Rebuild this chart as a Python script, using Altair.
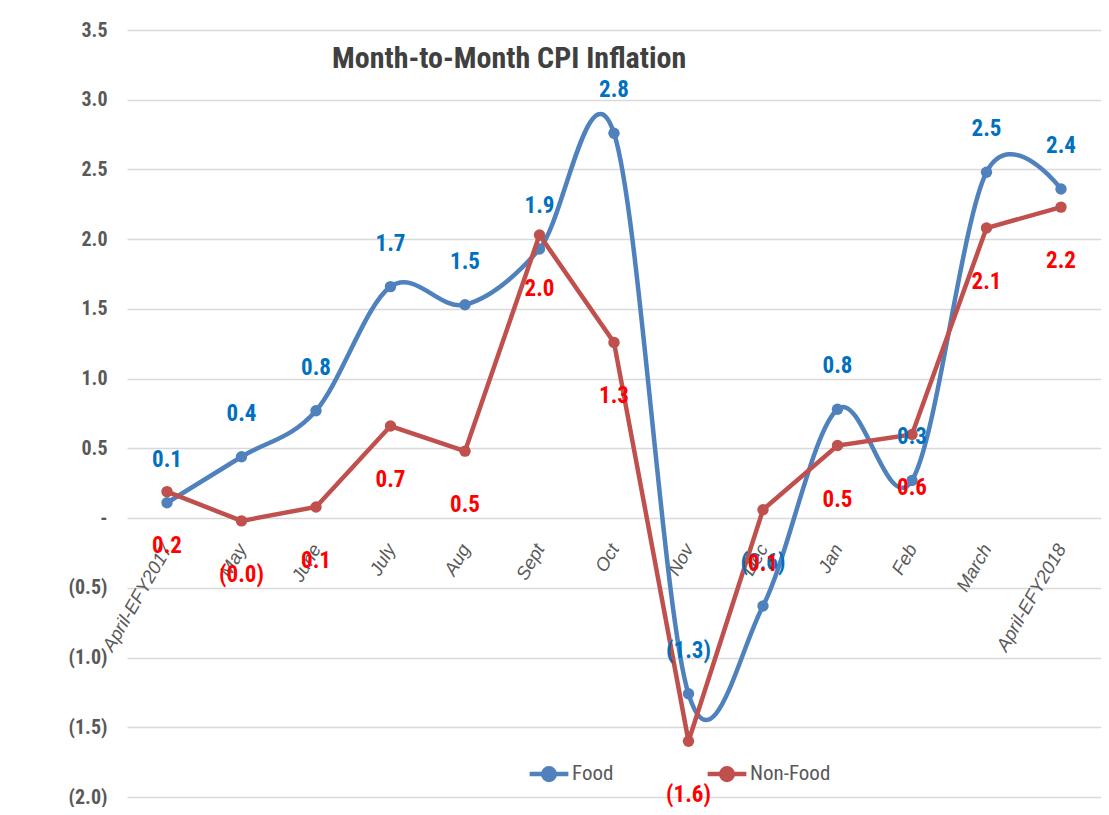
import altair as alt
import pandas as pd

months = ["April-EFY2017", "May", "June", "July", "Aug", "Sept", "Oct",
          "Nov", "Dec", "Jan", "Feb", "March", "April-EFY2018"]
food = [0.11, 0.44, 0.77, 1.66, 1.53, 1.93, 2.76, -1.26, -0.63, 0.78, 0.27, 2.48, 2.36]
nonfood = [0.19, -0.02, 0.08, 0.66, 0.48, 2.03, 1.26, -1.60, 0.06, 0.52, 0.60, 2.08, 2.23]
series_names = ["Food", "Non-Food"]
line_colors = ["#4F81BD", "#C0504D"]
label_colors = ["#0070C0", "#FF0000"]
y_ticks = [-2.0, -1.5, -1.0, -0.5, 0.0, 0.5, 1.0, 1.5, 2.0, 2.5, 3.0, 3.5]

rows = []
for m, f, n in zip(months, food, nonfood):
    rows.append({"month": m, "series": "Food", "v": f})
    rows.append({"month": m, "series": "Non-Food", "v": n})
df = pd.DataFrame(rows)

FONT = "Liberation Sans Narrow, Roboto Condensed, Liberation Sans, sans-serif"
XFONT = "Liberation Sans, sans-serif"
W, H = 974, 767
ymin, ymax = -2.0, 3.5
zero_off = -H * (0 - ymin) / (ymax - ymin)

label_expr = ("datum.v < 0 ? '(' + format(-datum.v, '.1f') + ')' : format(datum.v, '.1f')")

x_enc = alt.X("month:N", sort=months,
              scale=alt.Scale(type="point", padding=0.537),
              axis=alt.Axis(title=None, labelAngle=300, labelAlign="right",
                            labelBaseline="middle", labelPadding=27,
                            offset=zero_off, domain=False, ticks=False, grid=False,
                            labelFont=XFONT, labelFontSize=18.5, labelFontStyle="italic",
                            labelColor="#595959", labelOverlap=False))
y_enc = alt.Y("v:Q", scale=alt.Scale(domain=[ymin, ymax], nice=False, zero=False),
              axis=alt.Axis(title=None, values=y_ticks,
                            labelExpr="datum.value == 0 ? '-' : (datum.value < 0 ? '(' + format(-datum.value, '.1f') + ')' : format(datum.value, '.1f'))",
                            grid=True, gridColor="#D9D9D9", gridWidth=1.5,
                            domain=False, ticks=False, labelPadding=20,
                            labelFont=FONT, labelFontSize=20, labelFontWeight="bold",
                            labelColor="#595959"))

legend = alt.Legend(title=None, orient="none", legendX=400, legendY=722,
                    direction="horizontal", columnPadding=84,
                    symbolType="M-1,0L1,0M-0.3,0A0.3,0.3,0,1,1,0.3,0A0.3,0.3,0,1,1,-0.3,0Z",
                    symbolSize=1500, symbolStrokeWidth=4.5,
                    labelFont=FONT, labelFontSize=21, labelColor="#595959",
                    labelOffset=1)

stroke_enc = alt.Stroke("series:N", scale=alt.Scale(domain=series_names, range=line_colors),
                        legend=legend)
fill_enc = alt.Fill("series:N", scale=alt.Scale(domain=series_names, range=line_colors),
                    legend=legend)

base = alt.Chart(df).encode(x=x_enc, y=y_enc)

food_line = base.transform_filter("datum.series == 'Food'").mark_line(
    interpolate="cardinal", strokeWidth=4.5).encode(stroke=stroke_enc)
food_pts = base.transform_filter("datum.series == 'Food'").mark_circle(
    size=130, opacity=1).encode(fill=fill_enc)
nf_line = base.transform_filter("datum.series == 'Non-Food'").mark_line(
    strokeWidth=4.5).encode(stroke=stroke_enc)
nf_pts = base.transform_filter("datum.series == 'Non-Food'").mark_circle(
    size=130, opacity=1).encode(fill=fill_enc)

food_txt = base.transform_filter("datum.series == 'Food'").transform_calculate(
    lab=label_expr).mark_text(dy=-43, font=FONT, fontSize=23, fontWeight="bold",
                              color=label_colors[0]).encode(text="lab:N")
nf_txt = base.transform_filter("datum.series == 'Non-Food'").transform_calculate(
    lab=label_expr).mark_text(dy=54, font=FONT, fontSize=23, fontWeight="bold",
                              color=label_colors[1]).encode(text="lab:N")

chart = alt.layer(food_line, food_pts, nf_line, nf_pts, food_txt, nf_txt).properties(
    width=W, height=H,
    title=alt.TitleParams("Month-to-Month CPI Inflation", anchor="start", dx=264, dy=58,
                          font=FONT, fontSize=30, fontWeight="bold", color="#404040"),
    autosize=alt.AutoSizeParams(type="none"),
    padding={"left": 119, "top": 22, "right": 0, "bottom": 10},
).configure_view(stroke=None)

chart.save("out.html", embed_options={"renderer": "svg", "actions": False})
